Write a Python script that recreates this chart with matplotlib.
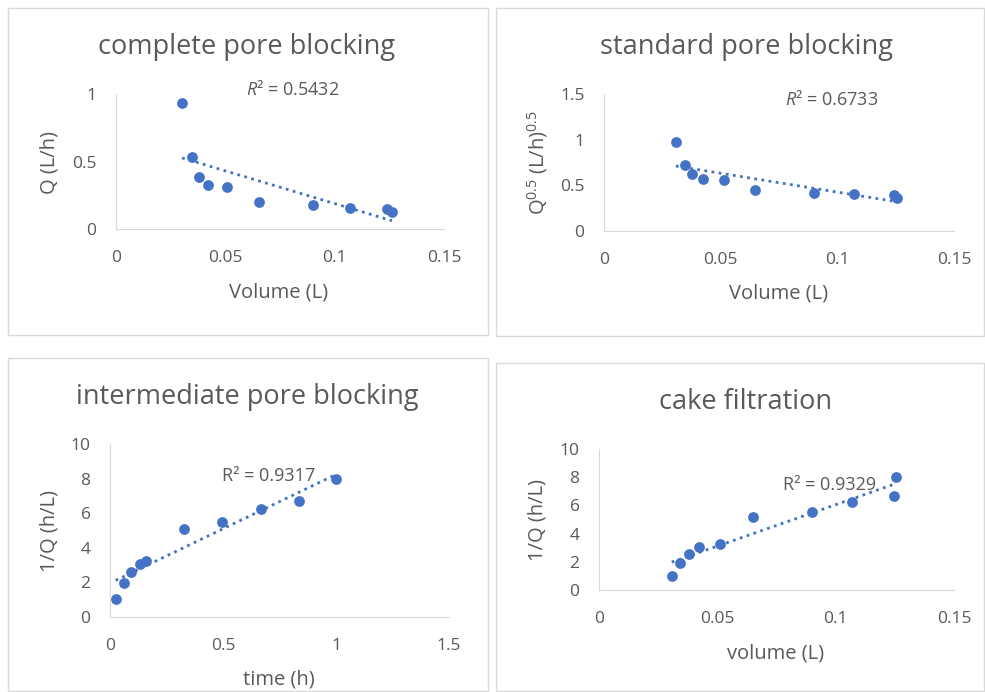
import numpy as np
import matplotlib
matplotlib.use('Agg')
from matplotlib import pyplot as plt
from matplotlib.patches import Rectangle

plt.rcParams['font.family'] = ['Open Sans', 'DejaVu Sans']
plt.rcParams['mathtext.fontset'] = 'custom'
plt.rcParams['mathtext.rm'] = 'Open Sans'
plt.rcParams['mathtext.it'] = 'Open Sans:italic'

# complete pore blocking: Q vs volume
cpb_vol = [0.0302, 0.0347, 0.0379, 0.0422, 0.0509, 0.0653, 0.0903, 0.107, 0.1238, 0.1262]
cpb_q = [0.933, 0.53, 0.385, 0.323, 0.313, 0.20, 0.178, 0.158, 0.148, 0.128]

# standard pore blocking: Q^0.5 vs volume
spb_vol = [0.0308, 0.0345, 0.0378, 0.0425, 0.0513, 0.0648, 0.0899, 0.1071, 0.1241, 0.1257]
spb_q05 = [0.972, 0.726, 0.62, 0.569, 0.558, 0.448, 0.418, 0.404, 0.389, 0.356]

# intermediate pore blocking: 1/Q vs time
ipb_time = [0.025, 0.062, 0.095, 0.132, 0.161, 0.328, 0.494, 0.666, 0.836, 1.0]
ipb_invq = [1.04, 1.94, 2.61, 3.09, 3.23, 5.10, 5.51, 6.23, 6.73, 7.97]

# cake filtration: 1/Q vs volume
cf_vol = [0.0307, 0.0342, 0.0382, 0.0423, 0.051, 0.0649, 0.0901, 0.107, 0.1245, 0.1256]
cf_invq = [0.97, 1.89, 2.57, 3.07, 3.26, 5.15, 5.52, 6.23, 6.70, 8.0]

vol_ticks = [0, 0.05, 0.1, 0.15]
vol_labels = ['0', '0.05', '0.1', '0.15']
time_ticks = [0, 0.5, 1, 1.5]
time_labels = ['0', '0.5', '1', '1.5']

BLUE = '#4472C4'
GRAY = '#595959'
LINE = '#D9D9D9'

W, H = 985, 692
fig = plt.figure(figsize=(W / 100, H / 100), dpi=100)


def px_axes(x0, y0, x1, y1):
    return fig.add_axes([x0 / W, 1 - y1 / H, (x1 - x0) / W, (y1 - y0) / H])


def frame(x0, y0, x1, y1):
    fig.add_artist(Rectangle((x0 / W, 1 - y1 / H), (x1 - x0) / W, (y1 - y0) / H,
                             transform=fig.transFigure, fill=False,
                             edgecolor=LINE, linewidth=1))


def panel(ax, x, y, title, xlabel, ylabel, xticks, xlabels, yticks, ylabels,
          r2, r2pos, title_xy, xlabel_xy, ylabel_xy):
    ax.scatter(x, y, s=60, color=BLUE, zorder=3, linewidths=0)
    k, b = np.polyfit(x, y, 1)
    xs = np.array([min(x), max(x)])
    ax.plot(xs, k * xs + b, color=BLUE, linestyle=(0, (1, 1.6)), linewidth=2, zorder=2)
    ax.set_xlim(xticks[0], xticks[-1])
    ax.set_ylim(yticks[0], yticks[-1])
    ax.set_xticks(xticks, xlabels)
    ax.set_yticks(yticks, ylabels)
    ax.tick_params(length=0, labelsize=12.5, labelcolor=GRAY)
    ax.tick_params(axis='x', pad=15)
    ax.tick_params(axis='y', pad=14)
    for s in ['top', 'right']:
        ax.spines[s].set_visible(False)
    for s in ['left', 'bottom']:
        ax.spines[s].set_color(LINE)
    ax.set_facecolor('none')
    ax.text(r2pos[0], r2pos[1], r2, ha='center', va='center', fontsize=13, color=GRAY)
    fig.text(title_xy[0] / W, 1 - title_xy[1] / H, title, ha='center', va='center',
             fontsize=19.5, color=GRAY)
    fig.text(xlabel_xy[0] / W, 1 - xlabel_xy[1] / H, xlabel, ha='center', va='center',
             fontsize=14.5, color=GRAY)
    fig.text(ylabel_xy[0] / W, 1 - ylabel_xy[1] / H, ylabel, ha='center', va='center',
             fontsize=14.5, color=GRAY, rotation=90)


frame(8, 8, 488, 335)
frame(496, 8, 984, 336)
frame(8, 358, 488, 691)
frame(496, 363, 984, 691)

ax1 = px_axes(116, 94, 444, 229)
panel(ax1, cpb_vol, cpb_q, 'complete pore blocking', 'Volume (L)', 'Q (L/h)',
      vol_ticks, vol_labels, [0, 0.5, 1], ['0', '0.5', '1'],
      r'$\mathit{R}$² = 0.5432', (0.081, 1.03), (247, 47), (279, 292), (50, 162))

ax2 = px_axes(604, 94, 954, 231)
panel(ax2, spb_vol, spb_q05, 'standard pore blocking', 'Volume (L)',
      r'Q$^{0.5}$ (L/h)$^{0.5}$',
      vol_ticks, vol_labels, [0, 0.5, 1, 1.5], ['0', '0.5', '1', '1.5'],
      r'$\mathit{R}$² = 0.6733', (0.0975, 1.44), (746, 47), (779, 293), (538, 163))

ax3 = px_axes(110, 444, 449, 617)
panel(ax3, ipb_time, ipb_invq, 'intermediate pore blocking', 'time (h)', '1/Q (h/L)',
      time_ticks, time_labels, [0, 2, 4, 6, 8, 10], ['0', '2', '4', '6', '8', '10'],
      'R² = 0.9317', (0.70, 8.16), (247, 397), (279, 679), (50, 531))

ax4 = px_axes(599, 449, 954, 590)
panel(ax4, cf_vol, cf_invq, 'cake filtration', 'volume (L)', '1/Q (h/L)',
      vol_ticks, vol_labels, [0, 2, 4, 6, 8, 10], ['0', '2', '4', '6', '8', '10'],
      'R² = 0.9329', (0.0976, 7.43), (746, 402), (776, 653), (537, 520))

fig.savefig('out.png', dpi=100)
